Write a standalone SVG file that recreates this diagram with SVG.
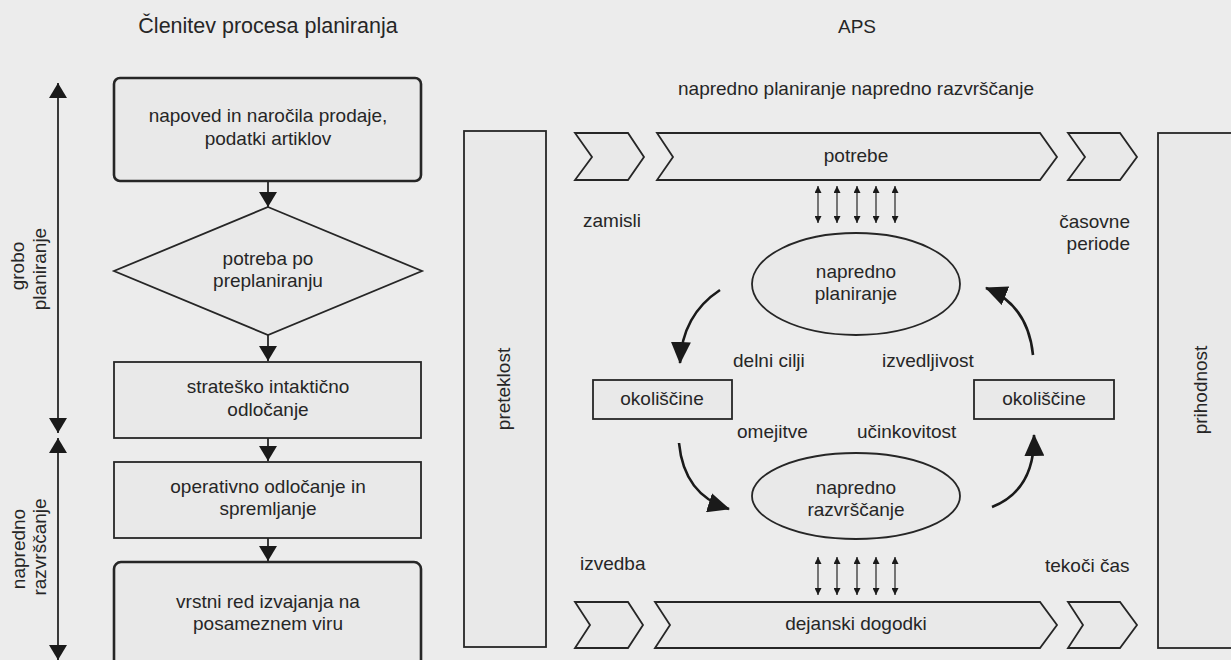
<svg xmlns="http://www.w3.org/2000/svg" width="1231" height="660" viewBox="0 0 1231 660">
<defs>
<style>
text{font-family:"Liberation Sans",Arial,sans-serif;font-size:19px;fill:#262626}
.c{text-anchor:middle}
.e{text-anchor:end}
.box{fill:#e9e9e9;stroke:#262626;stroke-width:1.8}
.thick{fill:#e9e9e9;stroke:#262626;stroke-width:2.6}
.ln{fill:none;stroke:#262626;stroke-width:1.8}
.thin{fill:none;stroke:#262626;stroke-width:1.2}
.cv{fill:none;stroke:#1a1a1a;stroke-width:2.6}
</style>
<marker id="ah" markerUnits="userSpaceOnUse" markerWidth="15" markerHeight="18" refX="15" refY="9" orient="auto-start-reverse"><path d="M0,0 L15,9 L0,18 z" fill="#1a1a1a"/></marker>
<marker id="sa" markerUnits="userSpaceOnUse" markerWidth="7" markerHeight="7" refX="7" refY="3.5" orient="auto-start-reverse"><path d="M0,0 L7,3.5 L0,7 z" fill="#1a1a1a"/></marker>
<marker id="ca" markerUnits="userSpaceOnUse" markerWidth="22" markerHeight="20" refX="21" refY="10" orient="auto"><path d="M0,0 L22,10 L0,20 z" fill="#1a1a1a"/></marker>
</defs>
<rect width="1231" height="660" fill="#ececec"/>

<text x="268" y="33" class="c" style="font-size:21.5px">Členitev procesa planiranja</text>
<text x="857" y="33" class="c">APS</text>
<text x="678" y="95">napredno planiranje napredno razvrščanje</text>

<g id="scale-labels">
<text transform="translate(24,266) rotate(-90)" class="c">grobo</text>
<text transform="translate(46,269) rotate(-90)" class="c">planiranje</text>
<text transform="translate(25,549) rotate(-90)" class="c">napredno</text>
<text transform="translate(46,547) rotate(-90)" class="c">razvrščanje</text>
</g>

<g id="connectors">
<line x1="58" y1="433" x2="58" y2="83" class="ln" marker-start="url(#ah)" marker-end="url(#ah)"/>
<line x1="58" y1="438" x2="58" y2="660" class="ln" marker-start="url(#ah)" marker-end="url(#ah)"/>
<line x1="268" y1="181" x2="268" y2="207" class="ln" marker-end="url(#ah)"/>
<line x1="268" y1="335" x2="268" y2="361" class="ln" marker-end="url(#ah)"/>
<line x1="268" y1="438" x2="268" y2="461" class="ln" marker-end="url(#ah)"/>
<line x1="268" y1="538" x2="268" y2="561" class="ln" marker-end="url(#ah)"/>

<line x1="818" y1="186" x2="818" y2="223" class="thin" marker-start="url(#sa)" marker-end="url(#sa)"/>
<line x1="837" y1="186" x2="837" y2="223" class="thin" marker-start="url(#sa)" marker-end="url(#sa)"/>
<line x1="857" y1="186" x2="857" y2="223" class="thin" marker-start="url(#sa)" marker-end="url(#sa)"/>
<line x1="876" y1="186" x2="876" y2="223" class="thin" marker-start="url(#sa)" marker-end="url(#sa)"/>
<line x1="895" y1="186" x2="895" y2="223" class="thin" marker-start="url(#sa)" marker-end="url(#sa)"/>
<line x1="818" y1="557" x2="818" y2="595" class="thin" marker-start="url(#sa)" marker-end="url(#sa)"/>
<line x1="837" y1="557" x2="837" y2="595" class="thin" marker-start="url(#sa)" marker-end="url(#sa)"/>
<line x1="857" y1="557" x2="857" y2="595" class="thin" marker-start="url(#sa)" marker-end="url(#sa)"/>
<line x1="876" y1="557" x2="876" y2="595" class="thin" marker-start="url(#sa)" marker-end="url(#sa)"/>
<line x1="895" y1="557" x2="895" y2="595" class="thin" marker-start="url(#sa)" marker-end="url(#sa)"/>

<path d="M720,290 Q682,315 680,363" class="cv" marker-end="url(#ca)"/>
<path d="M679,443 Q684,495 729,509" class="cv" marker-end="url(#ca)"/>
<path d="M1033,355 Q1028,305 986,288" class="cv" marker-end="url(#ca)"/>
<path d="M992,507 Q1035,490 1034,435" class="cv" marker-end="url(#ca)"/>
</g>

<g id="n-box1">
<rect x="114" y="78" width="307" height="103" rx="6" class="thick"/>
<text x="268" y="122" class="c">napoved in naročila prodaje,</text>
<text x="268" y="145" class="c">podatki artiklov</text>
</g>
<g id="n-diamond">
<polygon points="268,207 422,271 268,335 114,271" class="box"/>
<text x="268" y="265" class="c">potreba po</text>
<text x="268" y="287" class="c">preplaniranju</text>
</g>
<g id="n-box2">
<rect x="114" y="362" width="307" height="76" class="box"/>
<text x="268" y="393" class="c">strateško intaktično</text>
<text x="268" y="416" class="c">odločanje</text>
</g>
<g id="n-box3">
<rect x="114" y="462" width="307" height="76" class="box"/>
<text x="268" y="493" class="c">operativno odločanje in</text>
<text x="268" y="515" class="c">spremljanje</text>
</g>
<g id="n-box4">
<rect x="114" y="562" width="307" height="120" rx="7" class="thick"/>
<text x="268" y="608" class="c">vrstni red izvajanja na</text>
<text x="268" y="630" class="c">posameznem viru</text>
</g>

<g id="n-preteklost">
<rect x="464" y="131" width="82" height="516" class="box"/>
<text transform="translate(510,389) rotate(-90)" class="c">preteklost</text>
</g>
<g id="n-prihodnost">
<rect x="1158" y="133" width="90" height="515" class="box"/>
<text transform="translate(1207,390) rotate(-90)" class="c">prihodnost</text>
</g>

<g id="n-top-chevrons">
<polygon points="575,133 628,133 644,157 628,180 575,180 592,157" class="box"/>
<polygon points="657,133 1040,133 1057,157 1040,180 657,180 673,157" class="box"/>
<polygon points="1068,133 1120,133 1137,157 1120,180 1068,180 1085,157" class="box"/>
<text x="856" y="162" class="c">potrebe</text>
</g>
<g id="n-bottom-chevrons">
<polygon points="575,602 628,602 643,625 628,648 575,648 590,625" class="box"/>
<polygon points="655,602 1040,602 1057,625 1040,648 655,648 670,625" class="box"/>
<polygon points="1068,602 1120,602 1137,625 1120,648 1068,648 1083,625" class="box"/>
<text x="856" y="630" class="c">dejanski dogodki</text>
</g>

<g id="n-planiranje">
<ellipse cx="856" cy="284" rx="104" ry="51" class="box"/>
<text x="856" y="278" class="c">napredno</text>
<text x="856" y="300" class="c">planiranje</text>
</g>
<g id="n-razvrscanje">
<ellipse cx="856" cy="496" rx="104" ry="43" class="box"/>
<text x="856" y="494" class="c">napredno</text>
<text x="856" y="516" class="c">razvrščanje</text>
</g>
<g id="n-okoliscine-l">
<rect x="593" y="380" width="139" height="39" class="box"/>
<text x="662" y="405" class="c">okoliščine</text>
</g>
<g id="n-okoliscine-r">
<rect x="974" y="380" width="140" height="39" class="box"/>
<text x="1044" y="405" class="c">okoliščine</text>
</g>

<g id="labels">
<text x="583" y="227">zamisli</text>
<text x="1130" y="228" class="e">časovne</text>
<text x="1130" y="250" class="e">periode</text>
<text x="733" y="367">delni cilji</text>
<text x="882" y="367">izvedljivost</text>
<text x="737" y="438">omejitve</text>
<text x="857" y="438">učinkovitost</text>
<text x="580" y="570">izvedba</text>
<text x="1045" y="572">tekoči čas</text>
</g>
</svg>
